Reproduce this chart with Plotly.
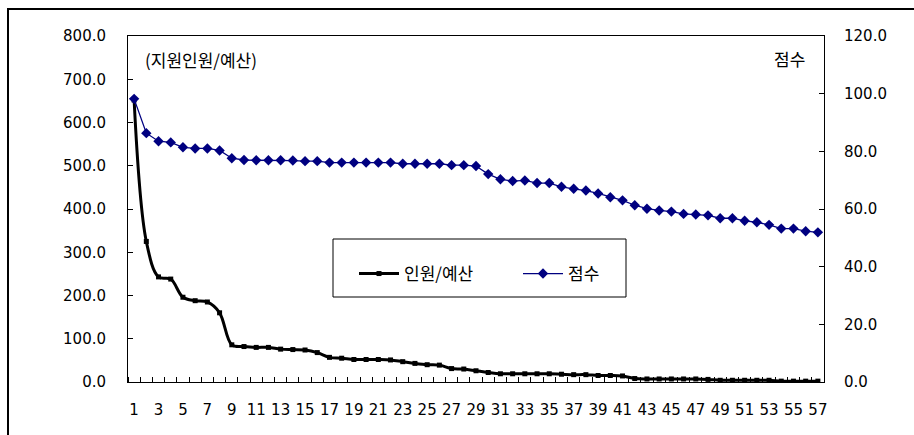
import plotly.graph_objects as go

categories = [1, 2, 3, 4, 5, 6, 7, 8, 9, 10, 11, 12, 13, 14, 15, 16, 17, 18, 19, 20,
              21, 22, 23, 24, 25, 26, 27, 28, 29, 30, 31, 32, 33, 34, 35, 36, 37, 38, 39, 40,
              41, 42, 43, 44, 45, 46, 47, 48, 49, 50, 51, 52, 53, 54, 55, 56, 57]

ratio_values = [652, 325, 243, 238, 196, 188, 185, 160, 86, 82,
                80, 80, 76, 75, 74, 68, 57, 55, 52, 52,
                52, 51, 47, 43, 40, 39, 31, 30, 26, 22,
                19, 19, 19, 19, 19, 18, 17, 17, 15, 15,
                14, 8, 7, 7, 7, 7, 7, 6, 4, 4,
                4, 4, 4, 2, 2, 2, 2]

score_values = [98.2, 86.3, 83.5, 83.1, 81.4, 81.0, 81.0, 80.3, 77.6, 77.0,
                76.9, 76.9, 76.9, 76.8, 76.6, 76.6, 76.1, 76.1, 76.1, 76.1,
                76.1, 76.1, 75.7, 75.7, 75.7, 75.7, 75.2, 75.2, 74.9, 72.1,
                70.3, 69.7, 69.9, 69.0, 69.0, 67.7, 67.0, 66.4, 65.4, 64.1,
                63.0, 61.3, 60.1, 59.5, 59.1, 58.3, 58.1, 57.8, 56.8, 56.8,
                55.9, 55.4, 54.5, 53.2, 53.2, 52.3, 51.9]

x_tick_vals = [1, 3, 5, 7, 9, 11, 13, 15, 17, 19, 21, 23, 25, 27, 29, 31, 33, 35, 37,
               39, 41, 43, 45, 47, 49, 51, 53, 55, 57]
x_tick_text = [str(v) for v in x_tick_vals]

left_ticks = [0, 100, 200, 300, 400, 500, 600, 700, 800]
right_ticks = [0, 20, 40, 60, 80, 100, 120]

series_names = ["인원/예산", "점수"]
left_title = "(지원인원/예산)"
right_title = "점수"

NUM_FONT = "DejaVu Sans"
KR_FONT = "Noto Sans CJK KR"

fig = go.Figure()

fig.add_trace(go.Scatter(
    x=categories, y=ratio_values, name=series_names[0],
    mode="lines+markers",
    line=dict(color="black", width=3, shape="spline", smoothing=1),
    marker=dict(symbol="square", size=5, color="black"),
    yaxis="y",
))

fig.add_trace(go.Scatter(
    x=categories, y=score_values, name=series_names[1],
    mode="lines+markers",
    line=dict(color="#000080", width=1.3),
    marker=dict(symbol="diamond", size=8, color="#000080"),
    yaxis="y2",
))

W, H = 914, 435
L, R, T, B = 128, 824, 36, 382
pw, ph = R - L, B - T

def px(x):
    return (x - L) / pw

def py(y):
    return (B - y) / ph

frame_line = dict(color="black", width=2)

fig.update_layout(
    width=W, height=H,
    margin=dict(l=L, r=W - R, t=T, b=H - B, pad=0),
    paper_bgcolor="white", plot_bgcolor="white",
    showlegend=True,
    legend=dict(
        orientation="h", x=px(354), y=py(274), xanchor="left", yanchor="middle",
        bgcolor="rgba(0,0,0,0)", borderwidth=0,
        font=dict(family=KR_FONT, size=17, color="black"),
        itemwidth=40, entrywidth=109,
    ),
    xaxis=dict(
        range=[0.5, 57.5], tickmode="array", tickvals=x_tick_vals, ticktext=x_tick_text,
        ticks="", showgrid=False, zeroline=False,
        showline=True, linecolor="black", linewidth=1, mirror=True,
        minor=dict(tick0=0.5, dtick=1, ticks="inside", ticklen=5, tickcolor="black", tickwidth=1, showgrid=False),
        tickfont=dict(family=NUM_FONT, size=15, color="black"),
        ticklabelstandoff=14,
    ),
    yaxis=dict(
        range=[0, 800], tickmode="array", tickvals=left_ticks,
        tickformat=".1f", ticks="inside", ticklen=5, tickcolor="black",
        showgrid=False, zeroline=False, showline=True, linecolor="black", linewidth=1,
        tickfont=dict(family=NUM_FONT, size=15, color="black"),
        ticklabelstandoff=18,
    ),
    yaxis2=dict(
        range=[0, 120], tickmode="array", tickvals=right_ticks,
        tickformat=".1f", ticks="inside", ticklen=5, tickcolor="black",
        overlaying="y", side="right",
        showgrid=False, zeroline=False, showline=True, linecolor="black", linewidth=1,
        tickfont=dict(family=NUM_FONT, size=15, color="black"),
        ticklabelstandoff=16,
    ),
    shapes=[
        dict(type="line", xref="paper", yref="paper",
             x0=px(7), x1=px(914), y0=py(9), y1=py(9), line=frame_line, layer="above"),
        dict(type="line", xref="paper", yref="paper",
             x0=px(8), x1=px(8), y0=py(9), y1=py(435), line=frame_line, layer="above"),
        dict(type="rect", xref="paper", yref="paper",
             x0=px(333), x1=px(626), y0=py(297), y1=py(239),
             line=dict(color="black", width=1), fillcolor="white", layer="below"),
    ],
    annotations=[
        dict(text=left_title, xref="paper", yref="paper", x=px(143), y=py(59),
             xanchor="left", yanchor="middle", showarrow=False,
             font=dict(family=KR_FONT, size=17, color="black")),
        dict(text=right_title, xref="paper", yref="paper", x=px(807), y=py(58),
             xanchor="right", yanchor="middle", showarrow=False,
             font=dict(family=KR_FONT, size=17, color="black")),
    ],
)

fig.write_html("out.html", config={"displayModeBar": False},
               post_script="document.body.style.margin='0px';")
